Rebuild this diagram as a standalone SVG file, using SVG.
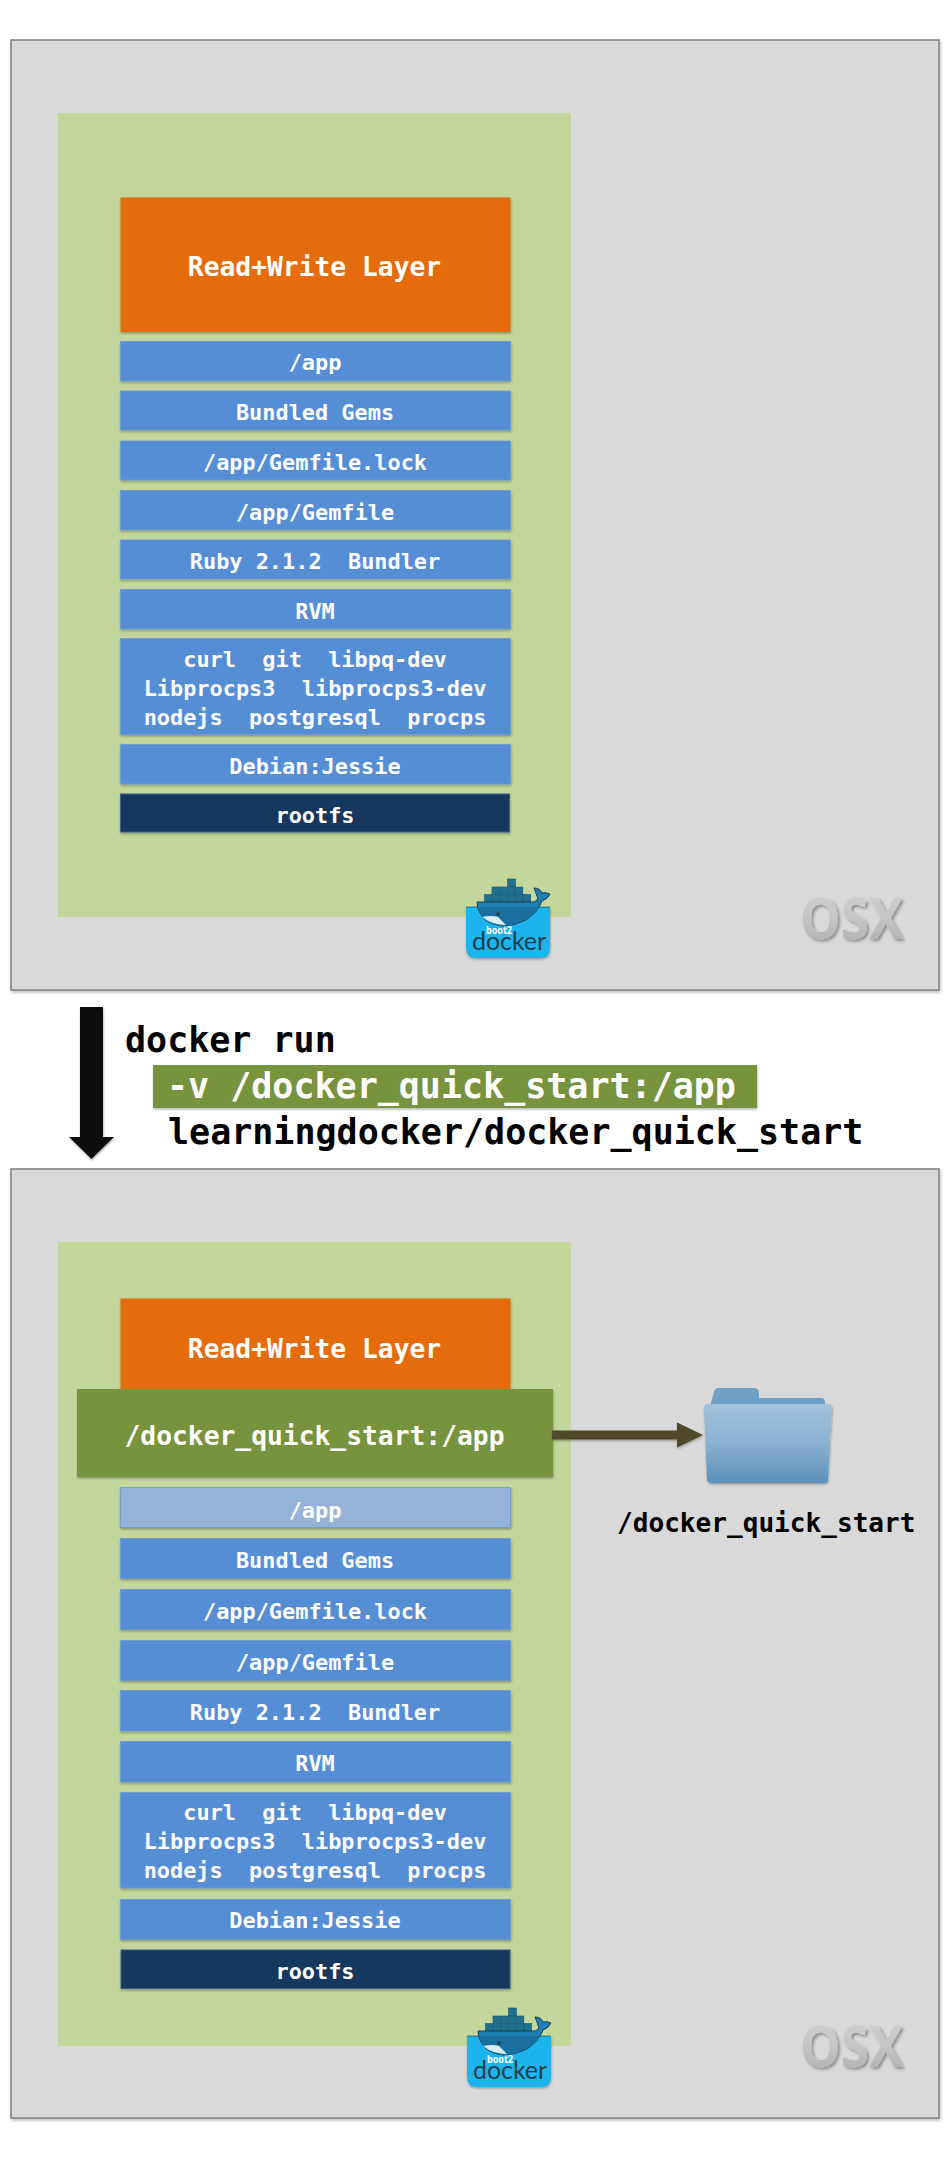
<svg xmlns="http://www.w3.org/2000/svg" width="950" height="2159" viewBox="0 0 950 2159">
<style>
text{font-family:"DejaVu Sans Mono","Liberation Mono",monospace;font-weight:bold;white-space:pre}
.panel{fill:#d9d9d9;stroke:#7f7f7f;stroke-width:1.5;filter:url(#sh)}
.vm{fill:#c3d69b}
.l{fill:#558ed5;stroke:#6b9bd8;stroke-width:.8;filter:url(#sh2)}
.o{fill:#e46c0a;filter:url(#sh2)}
.f{fill:#95b3d7;stroke:#6b9bd8;stroke-width:.8;filter:url(#sh2)}
.n{fill:#17375e;stroke:#376092;stroke-width:1;filter:url(#sh2)}
.g{fill:#77933c;filter:url(#sh2)}
.t{fill:#fff;font-size:21.9px;text-anchor:middle}
.T{fill:#fff;font-size:26.300px;text-anchor:middle}
.c{fill:#000;font-size:35px}
.osx{font-family:"Open Sans","DejaVu Sans",sans-serif;font-weight:700;font-size:57px;fill:url(#osxg);filter:url(#sh3)}
.k{fill:#1f6f8f;stroke:#185a75;stroke-width:.6}
</style>
<defs>
<filter id="sh" x="-2%" y="-2%" width="104%" height="104%"><feDropShadow dx="1" dy="2" stdDeviation="1.5" flood-color="#000" flood-opacity=".25"/></filter>
<filter id="sh2" x="-5%" y="-15%" width="110%" height="130%"><feDropShadow dx="0.5" dy="1.5" stdDeviation="1" flood-color="#000" flood-opacity=".3"/></filter>
<filter id="sh3" x="-10%" y="-10%" width="120%" height="130%"><feDropShadow dx="2" dy="2" stdDeviation="1.5" flood-color="#000" flood-opacity=".35"/></filter>
<linearGradient id="osxg" x1="0" y1="0" x2="0" y2="1"><stop offset="0" stop-color="#d4d4d4"/><stop offset=".5" stop-color="#c6c6c6"/><stop offset="1" stop-color="#a8a8a8"/></linearGradient>
<linearGradient id="fg" x1="0" y1="0" x2="0" y2="1"><stop offset="0" stop-color="#a3c2dc"/><stop offset=".5" stop-color="#8ab0d0"/><stop offset="1" stop-color="#5b90bb"/></linearGradient>
<g id="logo">
<path d="M466 907H550V948Q550 958 540 958H476Q466 958 466 948Z" fill="#1fb4ee" filter="url(#sh2)"/>
<rect class="k" x="507.500" y="879" width="8" height="8"/>
<rect class="k" x="492" y="887" width="7.700" height="7.500"/><rect class="k" x="499.700" y="887" width="7.700" height="7.500"/><rect class="k" x="507.400" y="887" width="7.700" height="7.500"/><rect class="k" x="515.100" y="887" width="7.700" height="7.500"/>
<rect class="k" x="484.500" y="894.500" width="7.700" height="7.500"/><rect class="k" x="492.200" y="894.500" width="7.700" height="7.500"/><rect class="k" x="499.900" y="894.500" width="7.700" height="7.500"/><rect class="k" x="507.600" y="894.500" width="7.700" height="7.500"/><rect class="k" x="515.300" y="894.500" width="7.700" height="7.500"/><rect class="k" x="523" y="894.500" width="7.700" height="7.500"/>
<path d="M477 902H531Q535 903 538 899Q536 893 534 888Q540 888 542 893Q546 892 550 894Q548 899 542 901Q538 912 526 920Q514 926 502 926Q485 924 480 913Q477 908 477 902Z" fill="#1b7fb5" stroke="#1d3e4b" stroke-width="1"/>
<path d="M478 907H540Q534 916 524 920Q513 926 502 926Q485 924 480 913Z" fill="#1b6fa0"/>
<path d="M482 917Q492 915 498 917L506 925Q492 925 482 917Z" fill="#d9eef2"/>
<circle cx="498" cy="914" r="1.800" fill="#1d3e4b"/>
<path d="M466 907H478M538 907H550" stroke="#1d3e4b" stroke-width=".6"/>
<text x="486" y="934" font-size="11" textLength="26" lengthAdjust="spacingAndGlyphs" style="font-family:'Open Sans',sans-serif;fill:#fff">boot2</text>
<text x="472" y="950" font-size="25" textLength="74" style="font-family:'Lato','Open Sans',sans-serif;font-weight:400;fill:#1d3e4b">docker</text>
</g>
</defs>
<g id="panel-top">
<rect class="panel" x="11" y="40" width="928" height="950"/>
<rect class="vm" x="58" y="113" width="513" height="804"/>
<g id="t-rw"><rect class="o" x="120.500" y="197.500" width="390" height="134.500"/><text class="T" x="314.500" y="276">Read+Write Layer</text></g>
<g id="t-app"><rect class="l" x="120.500" y="341.500" width="390" height="39.500"/><text class="t" x="315" y="370">/app</text></g>
<g id="t-gems"><rect class="l" x="120.500" y="391" width="390" height="39"/><text class="t" x="315" y="420">Bundled Gems</text></g>
<g id="t-lock"><rect class="l" x="120.500" y="441" width="390" height="39"/><text class="t" x="315" y="470">/app/Gemfile.lock</text></g>
<g id="t-gemfile"><rect class="l" x="120.500" y="490.500" width="390" height="39.500"/><text class="t" x="315" y="520">/app/Gemfile</text></g>
<g id="t-ruby"><rect class="l" x="120.500" y="540" width="390" height="39"/><text class="t" x="315" y="569">Ruby 2.1.2  Bundler</text></g>
<g id="t-rvm"><rect class="l" x="120.500" y="589.500" width="390" height="39.500"/><text class="t" x="315" y="619">RVM</text></g>
<g id="t-pkgs"><rect class="l" x="120.500" y="638.500" width="390" height="96"/><text class="t" x="315" y="667">curl  git  libpq-dev</text><text class="t" x="315" y="696">Libprocps3  libprocps3-dev</text><text class="t" x="315" y="725">nodejs  postgresql  procps</text></g>
<g id="t-debian"><rect class="l" x="120.500" y="744.500" width="390" height="39.500"/><text class="t" x="315" y="774">Debian:Jessie</text></g>
<g id="t-rootfs"><rect class="n" x="120.500" y="794" width="389" height="38"/><text class="t" x="315" y="823">rootfs</text></g>
<g id="t-logo"><use href="#logo"/></g>
<text class="osx" x="800" y="939" textLength="103" lengthAdjust="spacingAndGlyphs">OSX</text>
</g>
<g id="command">
<rect class="g" x="153" y="1065" width="604" height="43"/>
<text class="c" x="125" y="1052">docker run</text>
<text class="c" x="167" y="1098" style="fill:#fff">-v /docker_quick_start:/app</text>
<text class="c" x="168" y="1144">learningdocker/docker_quick_start</text>
</g>
<g id="panel-bottom">
<rect class="panel" x="11" y="1169" width="928" height="949"/>
<rect class="vm" x="58" y="1242" width="513" height="804"/>
<g id="b-rw"><rect class="o" x="120.500" y="1298.500" width="390" height="100"/><text class="T" x="314.500" y="1358">Read+Write Layer</text></g>
<g id="b-app"><rect class="f" x="120.500" y="1487.500" width="390" height="40"/><text class="t" x="315" y="1518">/app</text></g>
<g id="b-gems"><rect class="l" x="120.500" y="1538.500" width="390" height="40"/><text class="t" x="315" y="1568">Bundled Gems</text></g>
<g id="b-lock"><rect class="l" x="120.500" y="1589.500" width="390" height="40"/><text class="t" x="315" y="1619">/app/Gemfile.lock</text></g>
<g id="b-gemfile"><rect class="l" x="120.500" y="1640.500" width="390" height="40"/><text class="t" x="315" y="1670">/app/Gemfile</text></g>
<g id="b-ruby"><rect class="l" x="120.500" y="1690.500" width="390" height="40.500"/><text class="t" x="315" y="1720">Ruby 2.1.2  Bundler</text></g>
<g id="b-rvm"><rect class="l" x="120.500" y="1741.500" width="390" height="40.500"/><text class="t" x="315" y="1771">RVM</text></g>
<g id="b-pkgs"><rect class="l" x="120.500" y="1792.500" width="390" height="95.500"/><text class="t" x="315" y="1820">curl  git  libpq-dev</text><text class="t" x="315" y="1849">Libprocps3  libprocps3-dev</text><text class="t" x="315" y="1878">nodejs  postgresql  procps</text></g>
<g id="b-debian"><rect class="l" x="120.500" y="1899.500" width="390" height="40"/><text class="t" x="315" y="1928">Debian:Jessie</text></g>
<g id="b-rootfs"><rect class="n" x="121" y="1950" width="389" height="38.500"/><text class="t" x="315" y="1979">rootfs</text></g>
<g id="b-volume"><rect class="g" x="77" y="1389" width="476" height="88"/><text class="T" x="314.500" y="1445">/docker_quick_start:/app</text></g>
<g id="b-logo"><use href="#logo" x="1" y="1129"/></g>
<text class="osx" x="800" y="2067" textLength="103" lengthAdjust="spacingAndGlyphs">OSX</text>
<g id="b-folder">
<path d="M711 1403L714 1392Q715 1388 719 1388H753Q759 1388 759 1393V1398H821Q825 1398 825 1403V1410H711Z" fill="#6d9fc7"/>
<path d="M704 1408Q704 1404 708 1404H828Q832 1404 832 1408L828 1480Q828 1483 824 1483H711Q708 1483 707 1480Z" fill="url(#fg)" filter="url(#sh2)"/>
<text x="617" y="1532" style="font-size:26.100px;fill:#000">/docker_quick_start</text>
</g>
</g>
<g id="connectors">
<path d="M80 1007H103V1137H114L91.500 1159L69 1137H80Z" fill="#0d0d0d" filter="url(#sh2)"/>
<path d="M552 1430.500H677V1422.500L703 1435L677 1447.500V1439.500H552Z" fill="#4f4a2a" filter="url(#sh2)"/>
</g>
</svg>
